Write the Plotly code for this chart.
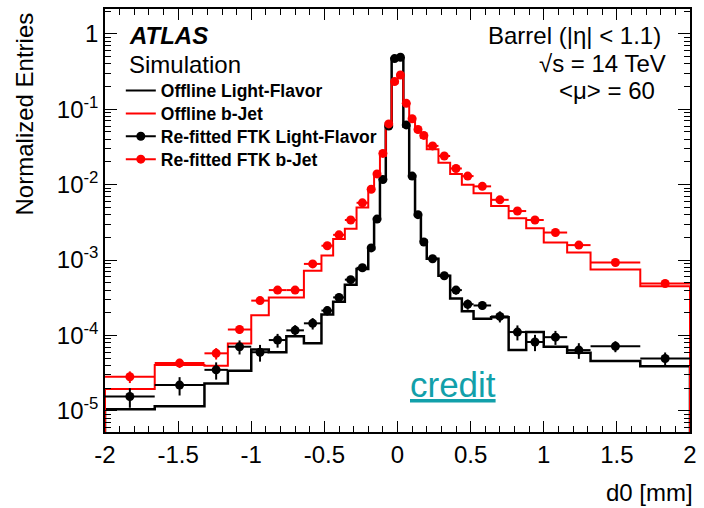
import plotly.graph_objects as go

# ---------------- data ----------------
bin_edges = [-2.0, -1.66, -1.32, -1.16, -1.0, -0.88, -0.76, -0.64, -0.52, -0.44, -0.36, -0.28,
             -0.2, -0.16, -0.12, -0.08, -0.04, 0.0, 0.04, 0.08, 0.12, 0.16, 0.2, 0.28, 0.36,
             0.44, 0.52, 0.64, 0.76, 0.88, 1.0, 1.16, 1.32, 1.66, 2.0]

offline_light = [1.05e-5, 1.15e-5, 2.3e-5, 3.4e-5, 6.5e-5, 6.0e-5, 9.8e-5, 7.9e-5, 1.9e-4,
                 2.8e-4, 4.7e-4, 7.6e-4, 1.4e-3, 3.5e-3, 1.17e-2, 5.9e-2, 0.47,
                 0.47, 5.9e-2, 1.29e-2, 4.0e-3, 1.8e-3, 1.04e-3, 6.2e-4, 3.1e-4, 2.1e-4,
                 1.67e-4, 1.75e-4, 6.4e-5, 1.11e-4, 7.1e-5, 5.9e-5, 4.6e-5, 3.9e-5]

offline_b = [1.95e-5, 4.07e-5, 3.98e-5, 7.8e-5, 1.85e-4, 3.2e-4, 3.2e-4, 7.2e-4, 1.15e-3,
             1.9e-3, 2.6e-3, 5.0e-3, 8.3e-3, 1.4e-2, 2.4e-2, 6.6e-2, 0.221,
             0.275, 0.12, 0.074, 0.051, 0.042, 0.0295, 0.0195, 0.0139, 0.0100,
             0.0077, 0.0052, 0.0036, 0.00265, 0.00171, 0.00126, 0.00075, 0.00045]

ftk_light = [1.55e-5, 2.2e-5, 3.5e-5, 7.1e-5, 6.0e-5, 8.7e-5, 1.17e-4, 1.45e-4, 2.14e-4,
             3.2e-4, 5.5e-4, 7.9e-4, 1.45e-3, 3.5e-3, 1.17e-2, 6.0e-2, 0.47,
             0.49, 6.2e-2, 1.3e-2, 4.0e-3, 1.74e-3, 1.04e-3, 6.2e-4, 4.0e-4, 2.6e-4,
             2.5e-4, 1.79e-4, 1.11e-4, 8.2e-5, 9.5e-5, 6.4e-5, 7.2e-5, 4.95e-5]
ftk_light_err = [4.5e-6, 6e-6, 9e-6, 1.5e-5, 1.5e-5, 1.8e-5, 2e-5, 2.5e-5, 3e-5, 4e-5, 5e-5,
                 6e-5, 1e-4, 1.5e-4, 3e-4, 1e-3, 3e-3,
                 3e-3, 1e-3, 3e-4, 1.5e-4, 1e-4, 8e-5, 6e-5, 5e-5, 4e-5, 3e-5, 3e-5,
                 2.5e-5, 2e-5, 2e-5, 1.5e-5, 1.2e-5, 1e-5]

ftk_b = [2.84e-5, 4.3e-5, 5.8e-5, 1.2e-4, 2.9e-4, 4.0e-4, 4.0e-4, 8.9e-4, 1.55e-3,
         2.16e-3, 3.4e-3, 5.75e-3, 8.7e-3, 1.39e-2, 2.6e-2, 6.4e-2, 0.233,
         0.285, 0.12, 0.075, 0.054, 0.045, 0.0327, 0.024, 0.0164, 0.013,
         0.0095, 0.0063, 0.00447, 0.0034, 0.00232, 0.00158, 0.00093, 0.00049]
ftk_b_err = [5e-6, 6e-6, 1e-5, 1.5e-5, 2.5e-5, 3e-5, 3e-5, 5e-5, 7e-5, 8e-5, 1e-4, 1.5e-4,
             2e-4, 3e-4, 5e-4, 1e-3, 3e-3,
             3e-3, 1.5e-3, 1e-3, 8e-4, 6e-4, 4e-4, 3e-4, 2e-4, 1.5e-4, 1.2e-4, 1e-4,
             8e-5, 6e-5, 5e-5, 4e-5, 3e-5, 2e-5]

series_names = ["Offline Light-Flavor", "Offline b-Jet",
                "Re-fitted FTK Light-Flavor", "Re-fitted FTK b-Jet"]
x_tick_vals = [-2, -1.5, -1, -0.5, 0, 0.5, 1, 1.5, 2]
x_tick_text = ["-2", "-1.5", "-1", "-0.5", "0", "0.5", "1", "1.5", "2"]
y_tick_vals = [1, 1e-1, 1e-2, 1e-3, 1e-4, 1e-5]
y_tick_text = ["1", "10<sup>-1</sup>", "10<sup>-2</sup>", "10<sup>-3</sup>",
               "10<sup>-4</sup>", "10<sup>-5</sup>"]

# ---------------- layout constants ----------------
W, H = 704, 508
ML, MR, MT, MB = 105, 7, 7, 76
X_RANGE = [-2, 2]
Y_LOG_RANGE = [-5.28, 0.33]
FLOOR = 10 ** (Y_LOG_RANGE[0] - 1)
FONT = "Liberation Sans, Arial, Helvetica, sans-serif"
RED = "#ff0000"


def px(xpix):
    return (xpix - ML) / (W - ML - MR)


def py(ypix):
    return (H - MB - ypix) / (H - MT - MB)


centers = [(bin_edges[i] + bin_edges[i + 1]) / 2 for i in range(len(bin_edges) - 1)]
half_w = [(bin_edges[i + 1] - bin_edges[i]) / 2 for i in range(len(bin_edges) - 1)]

# minor tick positions (axis decoration)
x_minor = [round(-2 + 0.1 * k, 2) for k in range(41)]
x_minor = [v for v in x_minor if abs(v * 2 - round(v * 2)) > 1e-6]
y_minor = [m * 10 ** e for e in range(-6, 1) for m in range(2, 10)]


def step_xy(vals):
    xs = [bin_edges[0]] + bin_edges[:-1] + [bin_edges[-1], bin_edges[-1]]
    ys = [FLOOR] + list(vals) + [vals[-1], FLOOR]
    return xs, ys


fig = go.Figure()

xs, ys = step_xy(offline_light)
fig.add_trace(go.Scatter(x=xs, y=ys, mode="lines", line=dict(color="black", width=2.5, shape="hv"),
                         showlegend=False, hoverinfo="skip"))
xs, ys = step_xy(offline_b)
fig.add_trace(go.Scatter(x=xs, y=ys, mode="lines", line=dict(color=RED, width=2, shape="hv"),
                         showlegend=False, hoverinfo="skip"))

fig.add_trace(go.Scatter(x=centers, y=ftk_light, mode="markers",
                         marker=dict(color="black", size=9),
                         error_x=dict(type="data", array=half_w, width=0, thickness=2, color="black"),
                         error_y=dict(type="data", array=ftk_light_err, width=0, thickness=2, color="black"),
                         showlegend=False))
fig.add_trace(go.Scatter(x=centers, y=ftk_b, mode="markers",
                         marker=dict(color=RED, size=9),
                         error_x=dict(type="data", array=half_w, width=0, thickness=2, color=RED),
                         error_y=dict(type="data", array=ftk_b_err, width=0, thickness=2, color=RED),
                         showlegend=False))

# invisible trace that anchors the mirrored (top / right) tick axes
fig.add_trace(go.Scatter(x=[None], y=[None], xaxis="x2", yaxis="y2", showlegend=False,
                         hoverinfo="skip"))

# legend-only entries, each in its own legend box for exact spacing
legend_ids = ["legend", "legend2", "legend3", "legend4"]
legend_y = [89, 112, 135, 158]
legend_styles = [
    dict(mode="lines", line=dict(color="black", width=2)),
    dict(mode="lines", line=dict(color=RED, width=2)),
    dict(mode="lines+markers", line=dict(color="black", width=2), marker=dict(color="black", size=9)),
    dict(mode="lines+markers", line=dict(color=RED, width=2), marker=dict(color=RED, size=9)),
]
for name, lid, st in zip(series_names, legend_ids, legend_styles):
    fig.add_trace(go.Scatter(x=[None], y=[None], name=name, legend=lid, **st))

tickfont = dict(family=FONT, size=24, color="black")
x_minor_cfg = dict(ticks="inside", ticklen=6, tickmode="array", tickvals=x_minor,
                   tickcolor="black", tickwidth=1, showgrid=False)
y_minor_cfg = dict(ticks="inside", ticklen=6, tickmode="array", tickvals=y_minor,
                   tickcolor="black", tickwidth=1, showgrid=False)

fig.update_layout(
    width=W, height=H,
    margin=dict(l=ML, r=MR, t=MT, b=MB, pad=0),
    paper_bgcolor="white", plot_bgcolor="white",
    font=dict(family=FONT, color="black"),
    xaxis=dict(range=X_RANGE, tickmode="array", tickvals=x_tick_vals, ticktext=x_tick_text,
               ticks="inside", ticklen=11, tickwidth=1.2, tickcolor="black",
               showline=True, linecolor="black", linewidth=1.5, mirror=True,
               showgrid=False, zeroline=False, tickfont=tickfont, minor=x_minor_cfg),
    yaxis=dict(type="log", range=Y_LOG_RANGE, tickmode="array", tickvals=y_tick_vals,
               ticktext=y_tick_text, ticks="inside", ticklen=12, tickwidth=1.2, tickcolor="black",
               showline=True, linecolor="black", linewidth=1.5, mirror=True,
               showgrid=False, zeroline=False, tickfont=tickfont, minor=y_minor_cfg),
    xaxis2=dict(overlaying="x", side="top", anchor="y2", range=X_RANGE, tickmode="array",
                tickvals=x_tick_vals, showticklabels=False, ticks="inside", ticklen=11,
                tickwidth=1.2, tickcolor="black", showline=False, showgrid=False,
                zeroline=False, minor=x_minor_cfg),
    yaxis2=dict(overlaying="y", side="right", anchor="x2", type="log", range=Y_LOG_RANGE,
                tickmode="array", tickvals=y_tick_vals, showticklabels=False, ticks="inside",
                ticklen=12, tickwidth=1.2, tickcolor="black", showline=False, showgrid=False,
                zeroline=False, minor=y_minor_cfg),
    showlegend=True,
)

for lid, ly in zip(legend_ids, legend_y):
    fig.update_layout({lid: dict(x=px(121), y=py(ly), xanchor="left", yanchor="middle",
                                 bgcolor="rgba(0,0,0,0)", borderwidth=0,
                                 font=dict(family=FONT, size=17.5, color="black", weight="bold"))})

annotations = [
    dict(text="Normalized Entries", x=24, y=112, angle=-90, size=24),
    dict(text="d0 [mm]", x=702, y=493, xanchor="right", size=24),
    dict(text="<b><i>ATLAS</i></b>", x=127, y=34, xanchor="left", size=24),
    dict(text="Simulation", x=127, y=63, xanchor="left", size=24),
    dict(text="Barrel (|η| < 1.1)", x=670, y=34, xanchor="right", size=24),
    dict(text="√s = 14 TeV", x=675, y=62, xanchor="right", size=24),
    dict(text="<μ> = 60", x=664, y=89, xanchor="right", size=24),
]
for a in annotations:
    fig.add_annotation(text=a["text"], xref="paper", yref="paper", x=px(a["x"]), y=py(a["y"]),
                       xanchor=a.get("xanchor", "center"), yanchor="middle",
                       textangle=a.get("angle", 0), showarrow=False,
                       font=dict(family=FONT, size=a["size"], color="black"))

fig.add_annotation(text="<u>credit</u>", xref="paper", yref="paper", x=px(457), y=py(384),
                   xanchor="center", yanchor="middle", showarrow=False,
                   font=dict(family=FONT, size=35, color="#12a0aa"))

fig.write_html("out.html")
